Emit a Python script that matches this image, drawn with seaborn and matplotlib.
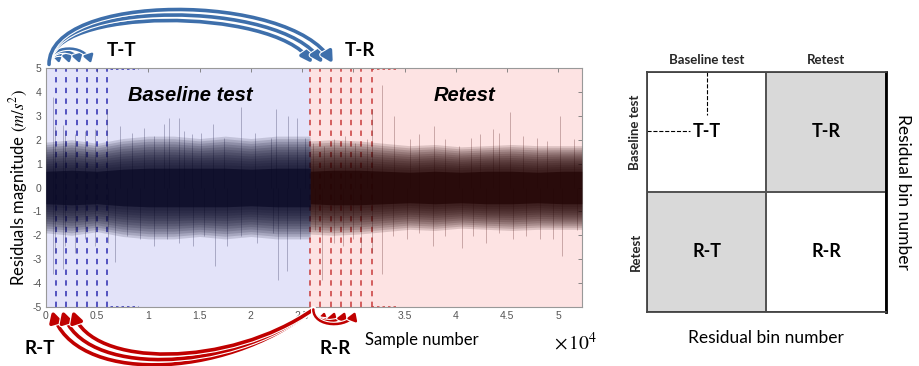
import matplotlib
matplotlib.use('Agg')
import matplotlib.pyplot as plt
import matplotlib.patheffects as pe
from matplotlib.colors import ListedColormap
from matplotlib.patches import FancyArrowPatch
from matplotlib.path import Path
import numpy as np
import seaborn as sns

# ---- layout of the recording (samples) ----
split = 25800          # first sample of the retest
n_total = 52300
bin_size = 1000
n_edges = 7            # dashed bin edges drawn in each part
dot_span = (6300, 9000)

# envelope of the residual trace (x in samples)
base_x = [0, 2500, 5000, 7500, 10000, 12500, 15000, 17500, 20000, 22500, 25800]
base_inner = [0.8, 0.85, 0.8, 0.9, 0.95, 0.95, 0.95, 0.95, 0.9, 0.95, 0.95]
base_outer = [1.9, 2.0, 1.85, 2.05, 2.15, 2.15, 2.05, 2.15, 2.05, 2.15, 2.15]

ret_x = [25800, 28000, 30500, 33000, 35500, 38000, 40500, 43000, 45500, 48000, 50500, 52300]
ret_inner = [0.8, 0.85, 0.85, 0.8, 0.75, 0.8, 0.75, 0.8, 0.8, 0.75, 0.8, 0.8]
ret_outer = [1.95, 2.0, 1.95, 1.85, 1.75, 1.8, 1.7, 1.75, 1.8, 1.75, 1.75, 1.75]

# single excursions (sample, value)
base_up = [(700, 3.8), (890, 2.57), (1700, 2.6), (1870, 2.29), (2840, 2.22), (3820, 2.36),
           (4800, 2.43), (6000, 3.3), (7270, 2.57), (8410, 2.29), (9550, 2.5), (10530, 2.15),
           (11500, 2.64), (12000, 2.9), (13000, 2.9), (13500, 2.36), (14300, 2.22), (15100, 2.29),
           (16300, 2.64), (17400, 2.08), (19000, 3.35), (20400, 2.29), (22000, 2.08), (22500, 3.3),
           (23600, 3.0), (24500, 2.9), (25300, 2.08)]
base_down = [(700, -3.6), (890, -2.73), (1700, -3.4), (1870, -2.45), (2840, -2.73), (3820, -2.17),
             (4800, -2.45), (6100, -2.31), (6760, -3.1), (7900, -2.03), (9200, -2.17), (10530, -2.45),
             (11800, -2.17), (13000, -2.31), (14400, -2.45), (15400, -2.03), (16500, -3.3), (17700, -2.45),
             (19000, -2.03), (20600, -2.31), (22200, -1.9), (22700, -3.85), (23500, -3.5), (24800, -2.17)]
ret_up = [(26100, 1.87), (27100, 1.73), (28100, 2.01), (29200, 2.15), (30200, 1.87), (31300, 2.01),
          (31800, 3.3), (32800, 4.3), (34000, 3.0), (35500, 2.01), (36400, 2.22), (37900, 2.57),
          (39000, 2.01), (40300, 1.73), (41500, 2.08), (42400, 2.22), (43600, 2.43), (44200, 2.29),
          (45300, 3.15), (46600, 2.15), (47900, 2.08), (48900, 1.94), (50200, 3.0), (51500, 2.01)]
ret_down = [(26300, -1.76), (26900, -3.85), (28100, -2.31), (29000, -2.45), (30000, -2.17), (30800, -2.59),
            (31800, -2.73), (32800, -3.6), (33900, -2.03), (35200, -2.17), (36400, -1.9), (37800, -2.45),
            (39000, -2.03), (40600, -2.52), (41700, -2.03), (43000, -2.31), (44200, -1.9), (45600, -2.17),
            (46900, -2.03), (48200, -2.17), (49500, -2.17), (50400, -2.87), (51800, -1.76)]

x_ticks = [0, 5000, 10000, 15000, 20000, 25000, 30000, 35000, 40000, 45000, 50000]
x_tick_labels = ['0', '0.5', '1', '1.5', '2', '2.5', '', '3.5', '4', '4.5', '5']
y_ticks = [-5, -4, -3, -2, -1, 0, 1, 2, 3, 4, 5]

# arrow tips (sample positions)
tt_tips = [1300, 2300, 3300, 4400]
tt_peaks = [5.42, 5.55, 5.68, 5.8]
tr_tips = [26000, 27000, 28000]
tr_peaks = [6.97, 7.2, 7.43]
rt_tips = [600, 1600, 2600]
rt_lows = [-7.4, -7.18, -6.95]
rr_tips = [27200, 28200, 29200, 30200]
rr_lows = [-5.42, -5.5, -5.58, -5.7]

# ---- right panel: comparison matrix ----
groups = ['Baseline test', 'Retest']
cell_shade = [[0, 1], [1, 0]]
cell_labels = [['T-T', 'T-R'], ['R-T', 'R-R']]

sns.set_style('white')
plt.rcParams['font.family'] = ['Lato', 'DejaVu Sans']
plt.rcParams['mathtext.fontset'] = 'stix'
plt.rcParams['text.color'] = 'black'
plt.rcParams['axes.labelcolor'] = 'black'

blue_bg = '#e3e3f9'
red_bg = '#fde3e3'
blue_arrow = '#3e6fab'
red_arrow = '#c00000'

fig = plt.figure(figsize=(9.19, 3.66), dpi=100)
ax = fig.add_axes([0.0500, 0.1612, 0.5830, 0.6530])

ax.axvspan(0, split, color=blue_bg, zorder=0, lw=0)
ax.axvspan(split, n_total, color=red_bg, zorder=0, lw=0)

# dashed bin edges and dotted continuation
for k in range(n_edges):
    ax.vlines(k * bin_size, -5, 5, colors='#2c2cb0', lw=1.1, linestyles=(0, (3.5, 3.5)), zorder=1)
    ax.vlines(split + k * bin_size, -5, 5, colors='#c83a3a', lw=1.1, linestyles=(0, (3.5, 3.5)), zorder=1)
for yy in (5, -5):
    ax.hlines(yy, dot_span[0], dot_span[1], colors='#2c2cb0', lw=1.8, linestyles=(0, (1, 1.2)), zorder=1)
    ax.hlines(yy, split + dot_span[0] - 400, split + dot_span[1] - 400, colors='#c83a3a', lw=1.8,
              linestyles=(0, (1, 1.2)), zorder=1)


# residual trace: soft layered envelope plus the single excursions
def draw_trace(xs, inner, outer, ups, downs, col_core, col_light):
    xs = np.array(xs)
    inner = np.array(inner)
    outer = np.array(outer)
    for sx, v in ups + downs:
        ax.vlines(sx, 0, v, colors=col_light, lw=0.6, alpha=0.45, zorder=2)
    for f in np.linspace(1.0, 0.0, 12):
        w = inner + f * (outer - inner)
        ax.fill_between(xs, -w, w, color=col_core, alpha=0.15, lw=0, zorder=3)
    ax.fill_between(xs, -inner * 0.85, inner * 0.85, color=col_core, alpha=0.75, lw=0, zorder=4)


draw_trace(base_x, base_inner, base_outer, base_up, base_down, '#0a0a26', '#4f4f75')
draw_trace(ret_x, ret_inner, ret_outer, ret_up, ret_down, '#220404', '#7a4a4a')

ax.set_xlim(0, n_total)
ax.set_ylim(-5, 5)
ax.set_xticks(x_ticks)
ax.set_xticklabels(x_tick_labels, fontfamily='Liberation Sans')
ax.set_yticks(y_ticks)
ax.set_yticklabels([str(v) for v in y_ticks], fontfamily='Liberation Sans')
ax.tick_params(direction='in', top=True, right=True, length=3, width=0.6, color='#777777',
               labelsize=7.5, labelcolor='#555555', pad=3)
for s in ax.spines.values():
    s.set_color('#999999')
    s.set_linewidth(0.8)
ax.set_ylabel(r'Residuals magnitude $(m/s^2)$', fontsize=12, labelpad=2)

ax.text(0.269, 0.887, 'Baseline test', transform=ax.transAxes, ha='center', va='center', color='black',
        fontsize=14.5, fontweight='bold', fontstyle='italic', fontfamily='Liberation Sans', zorder=6)
ax.text(0.782, 0.887, 'Retest', transform=ax.transAxes, ha='center', va='center', color='black',
        fontsize=14.5, fontweight='bold', fontstyle='italic', fontfamily='Liberation Sans', zorder=6)


def arc_arrow(p0, p3, c1, c2, color, lw, hl, hw):
    path = Path([p0, c1, c2, p3], [Path.MOVETO, Path.CURVE4, Path.CURVE4, Path.CURVE4])
    arr = FancyArrowPatch(path=path, arrowstyle=f'-|>,head_length={hl},head_width={hw}',
                          mutation_scale=10, color=color, lw=lw, clip_on=False, zorder=10,
                          path_effects=[pe.withStroke(linewidth=lw + 1.6, foreground='white')])
    ax.add_patch(arr)


top0 = (300, 5.15)
for tip, peak in zip(tt_tips, tt_peaks):
    d = tip - top0[0]
    yc = (peak - 0.125 * (top0[1] + 5.2)) / 0.75
    arc_arrow(top0, (tip, 5.2), (top0[0], yc), (tip - 0.15 * d, yc), blue_arrow, 1.8, 0.45, 0.28)
for tip, peak in zip(tr_tips, tr_peaks):
    d = tip - top0[0]
    yc = (peak - 0.125 * (top0[1] + 5.2)) / 0.75
    arc_arrow(top0, (tip, 5.2), (top0[0], yc), (tip - 0.15 * d, yc), blue_arrow, 2.6, 0.65, 0.35)

bot0 = (26100, -5.1)
for tip, low in zip(rt_tips, rt_lows):
    d = bot0[0] - tip
    yc = (low - 0.125 * (bot0[1] - 5.15)) / 0.75
    arc_arrow(bot0, (tip, -5.15), (bot0[0] - 0.35 * d, yc), (tip + 0.08 * d, yc), red_arrow, 2.6, 0.65, 0.35)
for tip, low in zip(rr_tips, rr_lows):
    d = tip - bot0[0]
    yc = (low - 0.125 * (bot0[1] - 5.2)) / 0.75
    arc_arrow(bot0, (tip, -5.2), (bot0[0], yc), (tip - 0.15 * d, yc), red_arrow, 1.8, 0.45, 0.28)

lab = dict(fontsize=13.5, fontweight='bold', ha='center', va='center')
fig.text(122 / 919, 1 - 50 / 366, 'T-T', **lab)
fig.text(360 / 919, 1 - 50 / 366, 'T-R', **lab)
fig.text(40 / 919, 1 - 348 / 366, 'R-T', **lab)
fig.text(335 / 919, 1 - 348 / 366, 'R-R', **lab)
fig.text(422 / 919, 1 - 340 / 366, 'Sample number', fontsize=12, ha='center', va='center')
fig.text(576 / 919, 1 - 342 / 366, r'$\times\,10^4$', fontsize=14, ha='center', va='center')

# ---- matrix panel ----
ax2 = fig.add_axes([0.7040, 0.1484, 0.2597, 0.6550])
sns.heatmap(cell_shade, ax=ax2, cmap=ListedColormap(['white', '#d9d9d9']), cbar=False,
            annot=np.array(cell_labels), fmt='', linewidths=1.2, linecolor='#555555',
            annot_kws={'fontsize': 13, 'fontweight': 'bold', 'color': 'black'},
            xticklabels=groups, yticklabels=groups)
ax2.xaxis.tick_top()
ax2.tick_params(length=0, pad=4)
ax2.set_xticklabels(groups, fontsize=9.5, fontweight='bold', rotation=0)
ax2.set_yticklabels(groups, fontsize=9.5, fontweight='bold', rotation=90, va='center')
for s in ax2.spines.values():
    s.set_visible(True)
    s.set_color('#444444')
    s.set_linewidth(1.3)
ax2.spines['right'].set_color('black')
ax2.spines['right'].set_linewidth(2)
ax2.plot([0.5, 0.5], [0, 0.36], ls='--', color='black', lw=0.8)
ax2.plot([0, 0.36], [0.49, 0.49], ls='--', color='black', lw=0.8)
ax2.text(1.0, 2.22, 'Residual bin number', fontsize=12.5, ha='center', va='center')
ax2.text(2.145, 1.0, 'Residual bin number', fontsize=12.5, ha='center', va='center', rotation=-90)

fig.savefig('out.png', dpi=100)
